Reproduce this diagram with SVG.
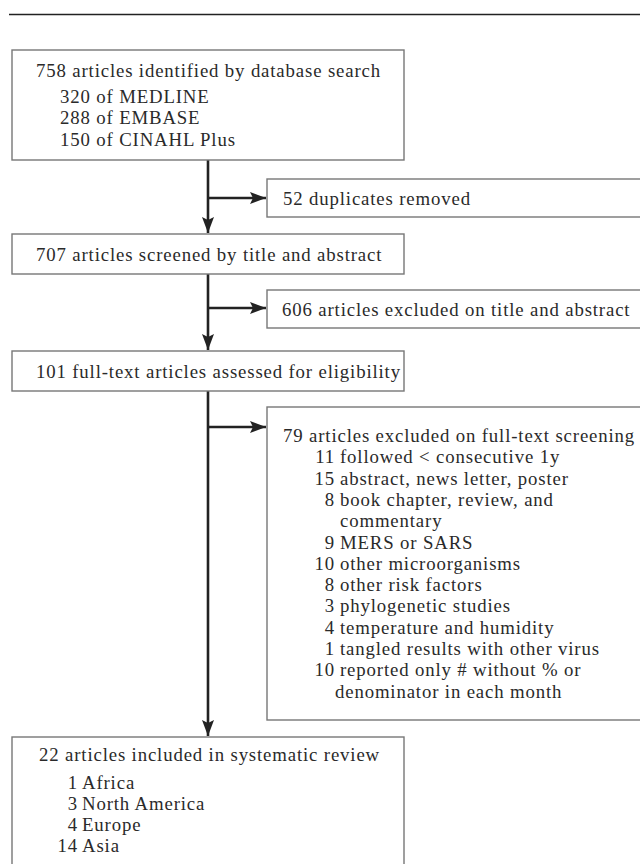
<svg xmlns="http://www.w3.org/2000/svg" width="640" height="864" viewBox="0 0 640 864">
<style>
  text { font-family: "Liberation Serif", "Times New Roman", "DejaVu Serif", serif; font-size: 18.8px; letter-spacing: 0.85px; fill: #2a2a2a; }
  .box { fill: #ffffff; stroke: #777777; stroke-width: 1.4; }
  .conn { fill: none; stroke: #222222; stroke-width: 2.6; }
  .num { text-anchor: end; }
</style>
<defs>
  <marker id="arrow" viewBox="0 0 16 12" refX="16" refY="6" markerWidth="16" markerHeight="12" markerUnits="userSpaceOnUse" orient="auto">
    <path d="M0,0 L16,6 L0,12 L3,6 Z" fill="#222222"/>
  </marker>
</defs>
<rect width="640" height="864" fill="#ffffff"/>
<line x1="9" y1="14.5" x2="640" y2="14.5" stroke="#222222" stroke-width="1.6"/>

<g id="connectors">
  <line class="conn" x1="208" y1="160" x2="208" y2="233" marker-end="url(#arrow)"/>
  <line class="conn" x1="208" y1="198" x2="266" y2="198" marker-end="url(#arrow)"/>
  <line class="conn" x1="208" y1="274" x2="208" y2="350" marker-end="url(#arrow)"/>
  <line class="conn" x1="208" y1="308" x2="266" y2="308" marker-end="url(#arrow)"/>
  <line class="conn" x1="208" y1="391" x2="208" y2="736" marker-end="url(#arrow)"/>
  <line class="conn" x1="208" y1="427" x2="266" y2="427" marker-end="url(#arrow)"/>
</g>

<g id="identified">
  <rect class="box" x="12" y="50" width="392" height="110"/>
  <text x="36" y="77">758 articles identified by database search</text>
  <text x="60" y="102.5">320 of MEDLINE</text>
  <text x="60" y="124">288 of EMBASE</text>
  <text x="60" y="145.5">150 of CINAHL Plus</text>
</g>

<g id="duplicates">
  <rect class="box" x="267" y="179" width="380" height="38"/>
  <text x="283" y="205">52 duplicates removed</text>
</g>

<g id="screened">
  <rect class="box" x="12" y="234" width="392" height="40"/>
  <text x="36" y="261">707 articles screened by title and abstract</text>
</g>

<g id="excluded-title">
  <rect class="box" x="267" y="290" width="380" height="38"/>
  <text x="282" y="316">606 articles excluded on title and abstract</text>
</g>

<g id="assessed">
  <rect class="box" x="12" y="351" width="392" height="40"/>
  <text x="36" y="378">101 full-text articles assessed for eligibility</text>
</g>

<g id="excluded-fulltext">
  <rect class="box" x="267" y="407" width="380" height="313"/>
  <text x="283" y="442">79 articles excluded on full-text screening</text>
  <text class="num" x="335" y="463.3">11</text><text x="340" y="463.3">followed &lt; consecutive 1y</text>
  <text class="num" x="335" y="484.6">15</text><text x="340" y="484.6">abstract, news letter, poster</text>
  <text class="num" x="335" y="505.9">8</text><text x="340" y="505.9">book chapter, review, and</text>
  <text x="340" y="527.2">commentary</text>
  <text class="num" x="335" y="548.5">9</text><text x="340" y="548.5">MERS or SARS</text>
  <text class="num" x="335" y="569.8">10</text><text x="340" y="569.8">other microorganisms</text>
  <text class="num" x="335" y="591.1">8</text><text x="340" y="591.1">other risk factors</text>
  <text class="num" x="335" y="612.4">3</text><text x="340" y="612.4">phylogenetic studies</text>
  <text class="num" x="335" y="633.7">4</text><text x="340" y="633.7">temperature and humidity</text>
  <text class="num" x="335" y="655">1</text><text x="340" y="655">tangled results with other virus</text>
  <text class="num" x="335" y="676.3">10</text><text x="340" y="676.3">reported only # without % or</text>
  <text x="335" y="697.6">denominator in each month</text>
</g>

<g id="included">
  <rect class="box" x="12" y="737" width="392" height="140"/>
  <text x="39" y="761">22 articles included in systematic review</text>
  <text class="num" x="78" y="789">1</text><text x="82" y="789">Africa</text>
  <text class="num" x="78" y="810">3</text><text x="82" y="810">North America</text>
  <text class="num" x="78" y="831">4</text><text x="82" y="831">Europe</text>
  <text class="num" x="78" y="852">14</text><text x="82" y="852">Asia</text>
</g>
</svg>
